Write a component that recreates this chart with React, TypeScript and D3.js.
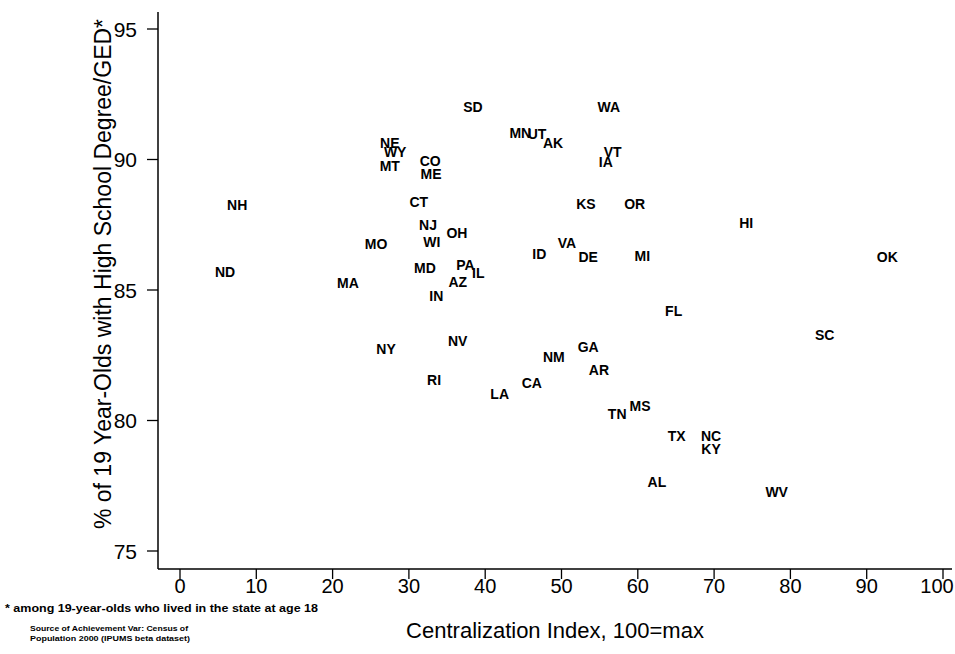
import React from "react";
import * as d3 from "d3";

const states = ["NH","ND","MA","MO","NY","NE","WY","MT","CO","ME","CT","NJ","WI","OH","MD","PA","IL","AZ","IN","SD","MN","UT","AK","WA","VT","IA","KS","OR","ID","VA","DE","MI","HI","OK","FL","SC","TN","MS","TX","NC","KY","AL","WV","NV","RI","LA","CA","NM","GA","AR"];
const centralization = [7.5,5.9,22.0,25.7,27.0,27.5,28.2,27.5,32.8,32.9,31.3,32.5,33.0,36.3,32.1,37.4,39.1,36.4,33.6,38.4,44.6,46.8,48.9,56.2,56.7,55.8,53.2,59.6,47.1,50.7,53.5,60.6,74.2,92.7,64.7,84.5,57.3,60.3,65.1,69.6,69.6,62.5,78.2,36.4,33.3,41.9,46.1,49.0,53.5,54.9];
const pctDegree = [88.26,85.69,85.27,86.76,82.74,90.63,90.29,89.75,89.94,89.44,88.37,87.49,86.84,87.18,85.84,85.96,85.65,85.31,84.77,92.01,91.02,90.98,90.63,92.01,90.29,89.9,88.3,88.3,86.38,86.8,86.26,86.3,87.57,86.26,84.2,83.28,80.25,80.56,79.41,79.41,78.91,77.64,77.26,83.05,81.55,81.02,81.44,82.43,82.82,81.93];
const xTicks = [0,10,20,30,40,50,60,70,80,90,100];
const yTicks = [75,80,85,90,95];

const W = 955, H = 654;
const FONT = "'Liberation Sans', Arial, Helvetica, sans-serif";

export default function App() {
  const x = d3.scaleLinear().domain([0, 100]).range([180, 943]);
  const y = d3.scaleLinear().domain([75, 95]).range([551, 29]);
  const axisX = 158, axisY = 569;
  return (
    <svg width={W} height={H} style={{ position: "absolute", left: 0, top: 0, background: "#fff" }} fontFamily={FONT}>
      <rect x={0} y={0} width={W} height={H} fill="#fff" />
      {/* axes */}
      <line x1={axisX} y1={12} x2={axisX} y2={axisY} stroke="#000" strokeWidth={1.5} />
      <line x1={axisX} y1={axisY} x2={952} y2={axisY} stroke="#000" strokeWidth={1.5} />
      {yTicks.map((t) => (
        <g key={"y" + t}>
          <line x1={axisX - 11} x2={axisX} y1={y(t)} y2={y(t)} stroke="#000" strokeWidth={1.3} />
          <text x={137} y={y(t)} dy="0.36em" textAnchor="end" fontSize={21}>{t}</text>
        </g>
      ))}
      {xTicks.map((t) => (
        <g key={"x" + t}>
          <line x1={x(t)} x2={x(t)} y1={axisY} y2={axisY + 10} stroke="#000" strokeWidth={1.3} />
          <text x={t === 100 ? x(t) - 6 : x(t)} y={593} textAnchor="middle" fontSize={20}>{t}</text>
        </g>
      ))}
      {/* point labels */}
      {states.map((s, i) => (
        <text key={s} x={x(centralization[i])} y={y(pctDegree[i])} dy="0.36em" textAnchor="middle"
          fontSize={14} fontWeight="bold">{s}</text>
      ))}
      {/* titles */}
      <text transform={`translate(111,274) rotate(-90)`} textAnchor="middle" fontSize={23}>
        % of 19 Year-Olds with High School Degree/GED*
      </text>
      <text x={555} y={638} textAnchor="middle" fontSize={22}>Centralization Index, 100=max</text>
      <text x={5} y={612} fontSize={11} fontWeight="bold" textLength={313} lengthAdjust="spacingAndGlyphs">
        * among 19-year-olds who lived in the state at age 18
      </text>
      <text x={30} y={631} fontSize={8} fontWeight="bold" textLength={158} lengthAdjust="spacingAndGlyphs">
        Source of Achievement Var: Census of
      </text>
      <text x={30} y={641} fontSize={8} fontWeight="bold" textLength={160} lengthAdjust="spacingAndGlyphs">
        Population 2000 (IPUMS beta dataset)
      </text>
    </svg>
  );
}
